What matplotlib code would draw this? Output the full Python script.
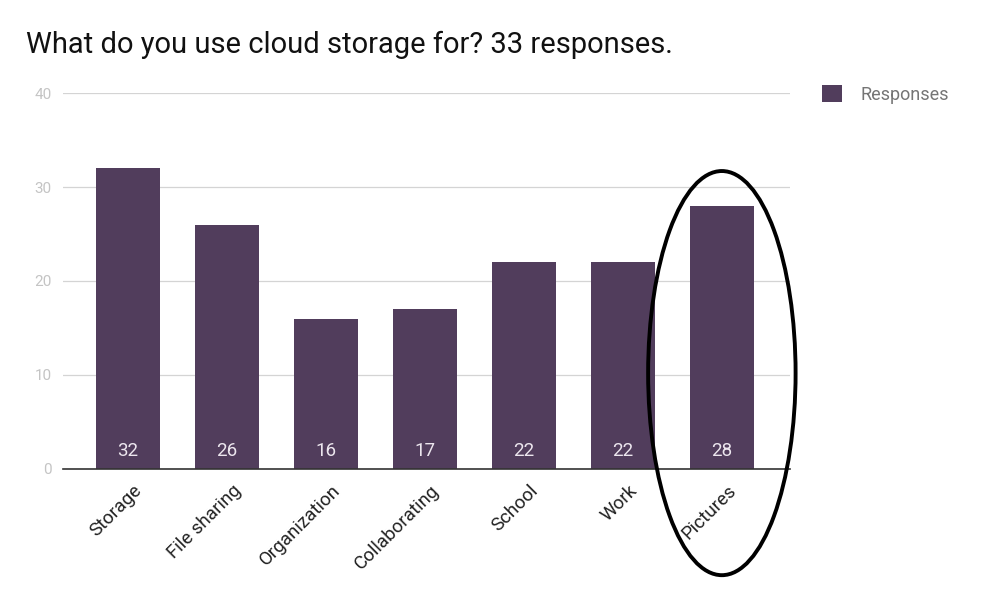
import matplotlib
matplotlib.use("Agg")
import matplotlib.pyplot as plt
import matplotlib.transforms as mtransforms
from matplotlib.patches import Ellipse, Patch

plt.rcParams['font.family'] = ['Roboto', 'DejaVu Sans']

categories = ["Storage", "File sharing", "Organization", "Collaborating", "School", "Work", "Pictures"]
responses = [32, 26, 16, 17, 22, 22, 28]
yticks = [0, 10, 20, 30, 40]
title = "What do you use cloud storage for? 33 responses."

bar_color = "#513d5c"

fig = plt.figure(figsize=(9.84, 6.12), dpi=100)
ax = fig.add_axes([0.064, 0.2337, 0.739, 0.6143])

x = range(len(categories))
bars = ax.bar(x, responses, width=0.65, color=bar_color, zorder=3)

for xi, v in zip(x, responses):
    ax.text(xi, 1.9, str(v), ha="center", va="center", color="#ece6ee", fontsize=13.5, zorder=4)

ax.set_xlim(-0.657, 6.69)
ax.set_ylim(0, 40)
ax.set_yticks(yticks)
ax.set_yticklabels([str(t) for t in yticks], color="#c4c4c4", fontsize=11)
ax.tick_params(axis="y", length=0, pad=8)
ax.grid(axis="y", color="#d4d4d4", linewidth=0.9, zorder=0)

ax.set_xticks(list(x))
ax.set_xticklabels(categories, rotation=45, ha="right", va="top", rotation_mode="anchor",
                   fontsize=13.5, color="#222222")
ax.tick_params(axis="x", length=0, pad=9)
# nudge rotated labels a little to the right, like the original
shift = mtransforms.ScaledTranslation(5 / 100, 0, fig.dpi_scale_trans)
for lbl in ax.get_xticklabels():
    lbl.set_transform(lbl.get_transform() + shift)

for s in ["top", "right", "left"]:
    ax.spines[s].set_visible(False)
ax.spines["bottom"].set_color("#333333")
ax.spines["bottom"].set_linewidth(1.2)
ax.spines["bottom"].set_zorder(5)

fig.text(0.026, 0.927, title, fontsize=21, color="#111111", va="center", ha="left")

handles = [Patch(facecolor=bar_color, label="Responses")]
leg = fig.legend(handles=handles, loc="center left", bbox_to_anchor=(0.819, 0.846),
                 frameon=False, fontsize=13, handlelength=1.1, handleheight=1.1,
                 handletextpad=1.0)
for t in leg.get_texts():
    t.set_color("#757575")

# hand-drawn circle around Pictures
ell = Ellipse((6.0, 10.2), 1.49, 43, fill=False, edgecolor="black", linewidth=2.8,
              clip_on=False, zorder=6)
ax.add_patch(ell)

fig.savefig("out.png", dpi=100)
